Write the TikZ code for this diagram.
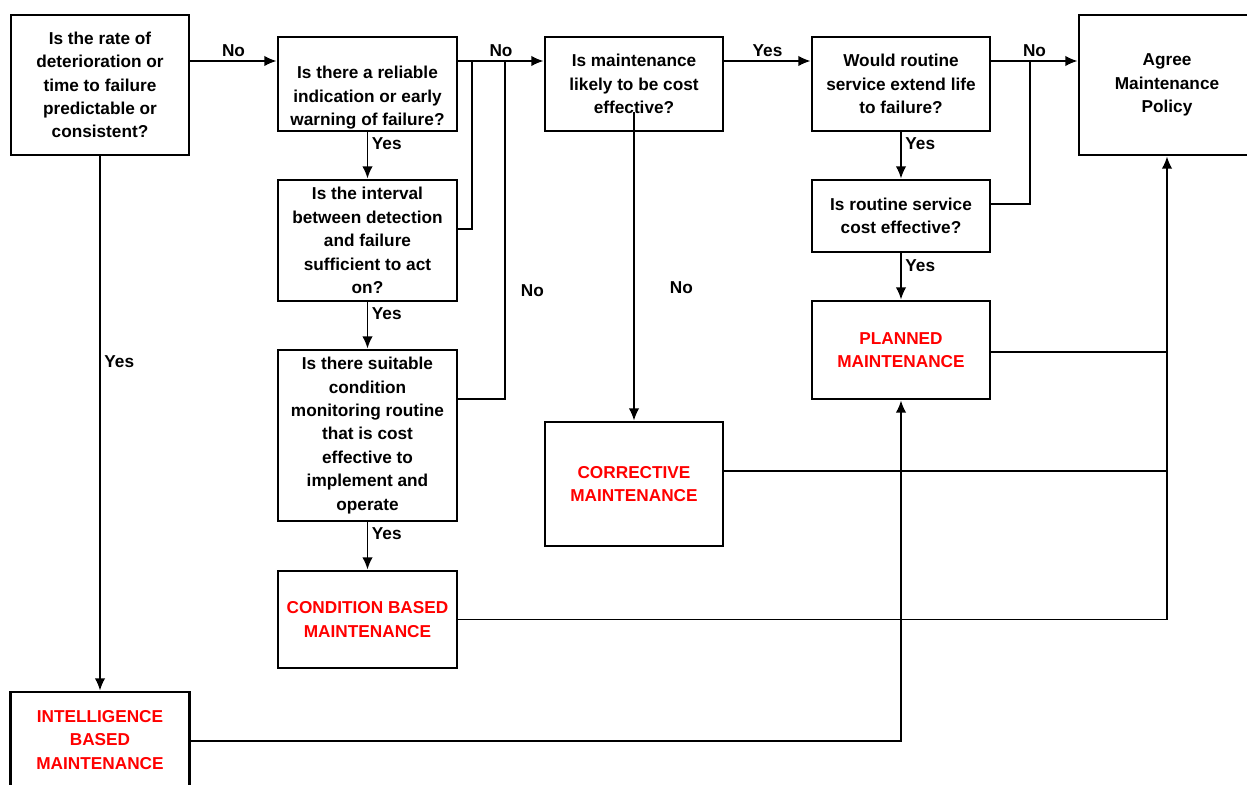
\documentclass[tikz,border=0pt]{standalone}
\usepackage{fontspec}
\setmainfont{Liberation Sans}
\usetikzlibrary{arrows.meta}

\begin{document}
\begin{tikzpicture}[x=0.2mm,y=-0.2mm,% one unit = one pixel of the original
	boite/.style={draw,line width=1.6pt,align=center,inner sep=1pt,
		font=\fontsize{9.8}{13.3}\selectfont\bfseries},
	rouge/.style={boite,text=red},
	fleche/.style={line width=1pt,-{Latex[length=7pt,width=6pt]}},
	trait/.style={line width=1pt},
	lbl/.style={font=\fontsize{9.8}{12}\selectfont\bfseries,inner sep=2pt}]
	\useasboundingbox (0,0) rectangle (1247,785);

	% questions
	\node[boite,minimum width=35.6mm,minimum height=28mm] (A) at (100,85) {Is the rate of\\deterioration or\\time to failure\\predictable or\\consistent?};
	\node[boite,minimum width=35.8mm,minimum height=18.8mm] (B) at (367.5,84) {\strut\\Is there a reliable\\indication or early\\warning of failure?};
	\node[boite,minimum width=35.8mm,minimum height=24.2mm] (C) at (367.5,240.5) {Is the interval\\between detection\\and failure\\sufficient to act\\on?};
	\node[boite,minimum width=35.8mm,minimum height=34.2mm] (D) at (367.5,435.5) {Is there suitable\\condition\\monitoring routine\\that is cost\\effective to\\implement and\\operate};
	\node[boite,minimum width=35.6mm,minimum height=18.8mm] (G) at (634,84) {Is maintenance\\likely to be cost\\effective?};
	\node[boite,minimum width=35.6mm,minimum height=18.8mm] (I) at (901,84) {Would routine\\service extend life\\to failure?};
	\node[boite,minimum width=35.6mm,minimum height=14.4mm] (J) at (901,216) {Is routine service\\cost effective?};
	\node[boite,minimum width=35.2mm,minimum height=28mm] (L) at (1167,85) {Agree\\Maintenance\\Policy};

	% strategies
	\node[rouge,minimum width=35.8mm,minimum height=19.4mm] (E) at (367.5,619.5) {CONDITION BASED\\MAINTENANCE};
	\node[rouge,minimum width=35.8mm,minimum height=19.2mm] (F) at (100,740) {INTELLIGENCE\\BASED\\MAINTENANCE};
	\node[rouge,minimum width=35.6mm,minimum height=24.8mm] (H) at (634,484) {CORRECTIVE\\MAINTENANCE};
	\node[rouge,minimum width=35.6mm,minimum height=19.6mm] (K) at (901,350) {PLANNED\\MAINTENANCE};

	\coordinate (nC) at (472,61);
	\coordinate (nD) at (505,61);
	\coordinate (nJ) at (1030,61);

	% top row
	\draw[fleche] (A.east |- 0,61) -- node[lbl,above]{No} (B.west |- 0,61);
	\draw[fleche] (B.east |- 0,61) -- node[lbl,above]{No} (G.west |- 0,61);
	\draw[fleche] (G.east |- 0,61) -- node[lbl,above]{Yes} (I.west |- 0,61);
	\draw[fleche] (I.east |- 0,61) -- node[lbl,above]{No} (L.west |- 0,61);
	\draw[trait] (C.east |- 0,229) -| (nC);
	\draw[trait] (D.east |- 0,399) -| node[lbl,pos=0.66,right,xshift=2.3mm]{No} (nD);
	\draw[trait] (J.east |- 0,204) -| (nJ);

	% yes branches
	\draw[fleche] (B.south) -- node[lbl,right,pos=0.25]{Yes} (C.north);
	\draw[fleche] (C.south) -- node[lbl,right,pos=0.25]{Yes} (D.north);
	\draw[fleche] (D.south) -- node[lbl,right,pos=0.24]{Yes} (E.north);
	\draw[fleche] (I.south) -- node[lbl,right,pos=0.25]{Yes} (J.north);
	\draw[fleche] (J.south) -- node[lbl,right,pos=0.27]{Yes} (K.north);
	\draw[fleche] (A.south) -- node[lbl,right,pos=0.385]{Yes} (F.north);
	\draw[fleche] ([yshift=4mm]G.south) -- node[lbl,right,pos=0.57,xshift=6.3mm]{No} (H.north);

	% back to the policy
	\draw[fleche] (E.east) -| (L.south);
	\draw[trait] (H.east |- 0,471) -- (L.south |- 0,471);
	\draw[trait] (K.east |- 0,352) -- (L.south |- 0,352);
	\draw[fleche] (F.east |- 0,741) -| (K.south);
\end{tikzpicture}
\end{document}
